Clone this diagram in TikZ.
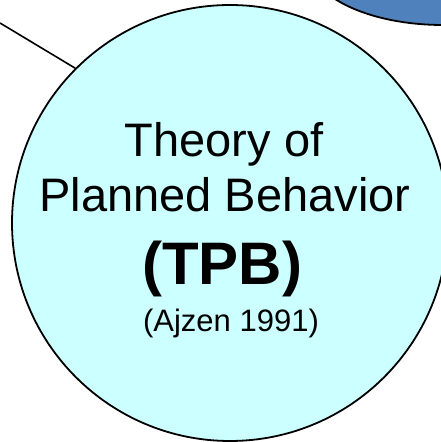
\documentclass[tikz,border=0pt]{standalone}
\usepackage{fontspec}
\setmainfont{Liberation Sans}
\usetikzlibrary{shapes.geometric}
\definecolor{tpbfill}{HTML}{CCFFFF}
\definecolor{blueov}{HTML}{4F81BD}
\begin{document}
\begin{tikzpicture}[x=1pt,y=1pt,
  outl/.style={draw=black,line width=1.8pt},
  txt/.style={anchor=base,inner sep=0pt,text=black}]
\useasboundingbox (0,0) rectangle (440,442);
% blue ellipse (partly outside the page, top right)
\node[outl,fill=blueov,ellipse,minimum width=270pt,minimum height=130pt,inner sep=0pt] (blue) at (443,482) {};
% main circle
\node[outl,fill=tpbfill,circle,minimum size=436pt,inner sep=0pt] (tpb) at (230,219) {};
% connector coming from outside the page
\coordinate (ext) at (0,419);
\draw[line width=1.6pt] (ext) -- (tpb.135);
% texts
\node[txt,font=\fontsize{47}{50}\selectfont] (t1) at (224,285) {Theory of};
\node[txt,font=\fontsize{47}{50}\selectfont] (t2) at (225,230) {Planned Behavior};
\node[txt,font=\fontsize{60}{64}\selectfont\bfseries] (t3) at (222,157) {(TPB)};
\node[txt,font=\fontsize{31}{34}\selectfont] (t4) at (231,110) {(Ajzen 1991)};
\end{tikzpicture}
\end{document}
